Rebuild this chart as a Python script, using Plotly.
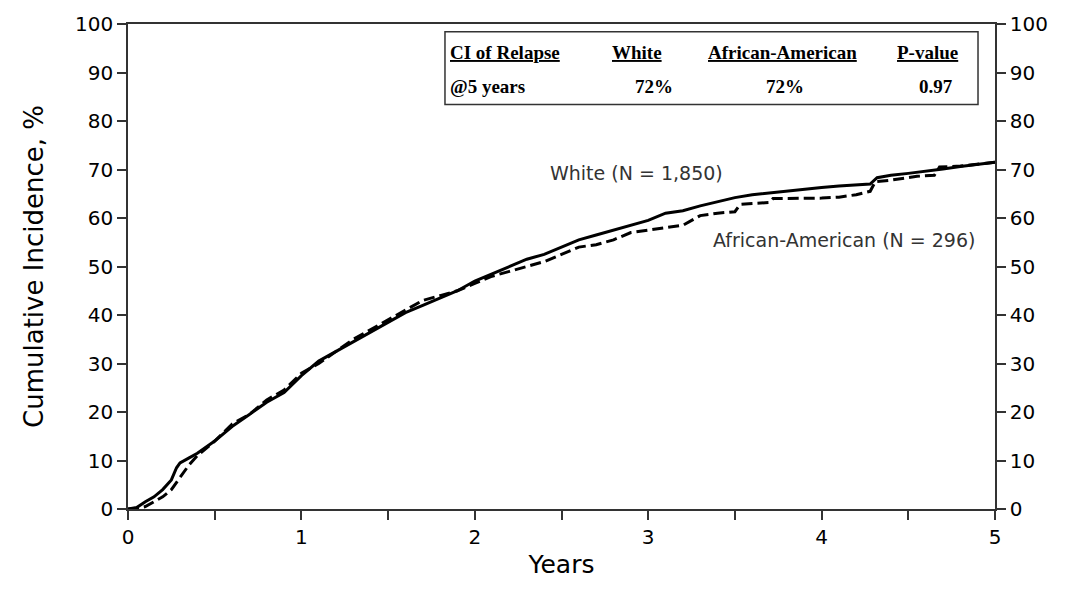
import plotly.graph_objects as go

# ---- data ----
white_x = [0, 0.05, 0.1, 0.15, 0.2, 0.25, 0.28, 0.3, 0.35, 0.4, 0.5, 0.6, 0.7, 0.8, 0.9, 1.0, 1.1, 1.2, 1.3, 1.4,
           1.5, 1.6, 1.7, 1.8, 1.9, 2.0, 2.1, 2.2, 2.3, 2.4, 2.5, 2.6, 2.7, 2.8, 2.9, 3.0, 3.1, 3.2, 3.3,
           3.4, 3.5, 3.6, 3.7, 3.8, 3.9, 4.0, 4.1, 4.2, 4.28, 4.32, 4.4, 4.5, 4.6, 4.7, 4.8, 4.9, 5.0]
white_y = [0, 0.3, 1.5, 2.5, 4.0, 6.0, 8.5, 9.5, 10.5, 11.5, 14.0, 17.0, 19.5, 22.0, 24.0, 27.5, 30.5, 32.5, 34.5, 36.5,
           38.5, 40.5, 42.0, 43.5, 45.0, 47.0, 48.5, 50.0, 51.5, 52.5, 54.0, 55.5, 56.5, 57.5, 58.5, 59.5, 61.0, 61.5, 62.5,
           63.3, 64.2, 64.8, 65.2, 65.6, 66.0, 66.3, 66.6, 66.8, 67.0, 68.3, 68.8, 69.2, 69.6, 70.1, 70.6, 71.0, 71.5]

aa_x = [0, 0.05, 0.1, 0.15, 0.2, 0.25, 0.3, 0.35, 0.4, 0.5, 0.6, 0.7, 0.8, 0.9, 1.0, 1.1, 1.2, 1.3, 1.4,
        1.5, 1.6, 1.7, 1.8, 1.9, 2.0, 2.1, 2.2, 2.3, 2.4, 2.5, 2.6, 2.7, 2.8, 2.9, 3.0, 3.1, 3.2, 3.3,
        3.4, 3.5, 3.53, 3.6, 3.7, 3.72, 3.9, 4.0, 4.1, 4.2, 4.28, 4.31, 4.4, 4.55, 4.65, 4.68, 4.8, 4.9, 5.0]
aa_y = [0, 0.1, 0.5, 1.5, 2.5, 4.0, 6.5, 9.0, 11.0, 14.0, 17.5, 19.5, 22.5, 24.5, 28.0, 30.0, 32.5, 35.0, 37.0,
        39.0, 41.0, 43.0, 44.0, 45.0, 46.5, 48.0, 49.0, 50.0, 51.0, 52.5, 54.0, 54.5, 55.5, 57.0, 57.5, 58.0, 58.5, 60.5,
        61.0, 61.3, 62.8, 63.0, 63.2, 64.0, 64.0, 64.1, 64.3, 64.8, 65.5, 67.5, 67.8, 68.6, 68.8, 70.5, 70.7, 71.1, 71.5]

x_ticks = [0, 1, 2, 3, 4, 5]
y_ticks = [0, 10, 20, 30, 40, 50, 60, 70, 80, 90, 100]

table_headers = ["CI of Relapse", "White", "African-American", "P-value"]
table_row = ["@5 years", "72%", "72%", "0.97"]

FONT = "DejaVu Sans"
SERIF = "Liberation Serif"

fig = go.Figure()
fig.add_trace(go.Scatter(x=white_x, y=white_y, mode="lines",
                         line=dict(color="black", width=3), name="White", hoverinfo="skip"))
fig.add_trace(go.Scatter(x=aa_x, y=aa_y, mode="lines",
                         line=dict(color="black", width=3, dash="11px,5px"), name="African-American",
                         hoverinfo="skip"))
# invisible trace to draw the right-hand axis
fig.add_trace(go.Scatter(x=white_x, y=white_y, mode="lines", yaxis="y2", opacity=0,
                         showlegend=False, hoverinfo="skip"))

axis_common = dict(showgrid=False, zeroline=False, showline=True, linecolor="#333333", linewidth=1.5,
                   ticks="outside", tickcolor="#333333", ticklen=9, tickwidth=1.5,
                   tickfont=dict(family=FONT, size=20, color="black"))

fig.update_layout(
    width=1072, height=593,
    margin=dict(l=128, r=77, t=21, b=84),
    paper_bgcolor="white", plot_bgcolor="white",
    showlegend=False,
    xaxis=dict(range=[0, 5], tickvals=x_ticks, ticktext=[str(v) for v in x_ticks], mirror=True,
               minor=dict(dtick=0.5, ticks="outside", ticklen=9, tickcolor="#333333", tickwidth=1.5),
               title=dict(text="Years", font=dict(family=FONT, size=25, color="black"), standoff=8),
               **axis_common),
    yaxis=dict(range=[0, 100], tickvals=y_ticks,
               title=dict(text="Cumulative Incidence, %", font=dict(family=FONT, size=26, color="black"),
                          standoff=24),
               **axis_common),
    yaxis2=dict(range=[0, 100], tickvals=y_ticks, overlaying="y", side="right", **axis_common),
)

# table box
fig.add_shape(type="rect", xref="x", yref="y", x0=1.828, x1=4.902, y0=83.4, y1=98.4,
              line=dict(color="#333333", width=1.5), fillcolor="white", layer="above")

hx = [1.845, 2.935, 3.777, 4.613]
hanchor = ["left", "center", "center", "center"]
for t, xx, an in zip(table_headers, hx, hanchor):
    fig.add_annotation(x=xx, y=94.2, xref="x", yref="y", text="<b><u>" + t + "</u></b>", showarrow=False,
                       xanchor=an, yanchor="middle", font=dict(family=SERIF, size=19, color="black"))
rx = [1.845, 3.155, 3.79, 4.769]
ranchor = ["left", "right", "center", "right"]
for t, xx, an in zip(table_row, rx, ranchor):
    fig.add_annotation(x=xx, y=87.2, xref="x", yref="y", text="<b>" + t + "</b>", showarrow=False,
                       xanchor=an, yanchor="middle", font=dict(family=SERIF, size=19, color="black"))

fig.add_annotation(x=2.42, y=69.3, xref="x", yref="y", text="White (N = 1,850)", showarrow=False,
                   xanchor="left", yanchor="middle", font=dict(family=FONT, size=19, color="#333333"))
fig.add_annotation(x=3.36, y=55.5, xref="x", yref="y", text="African-American (N = 296)", showarrow=False,
                   xanchor="left", yanchor="middle", font=dict(family=FONT, size=19, color="#333333"))

fig.write_html("out.html")
